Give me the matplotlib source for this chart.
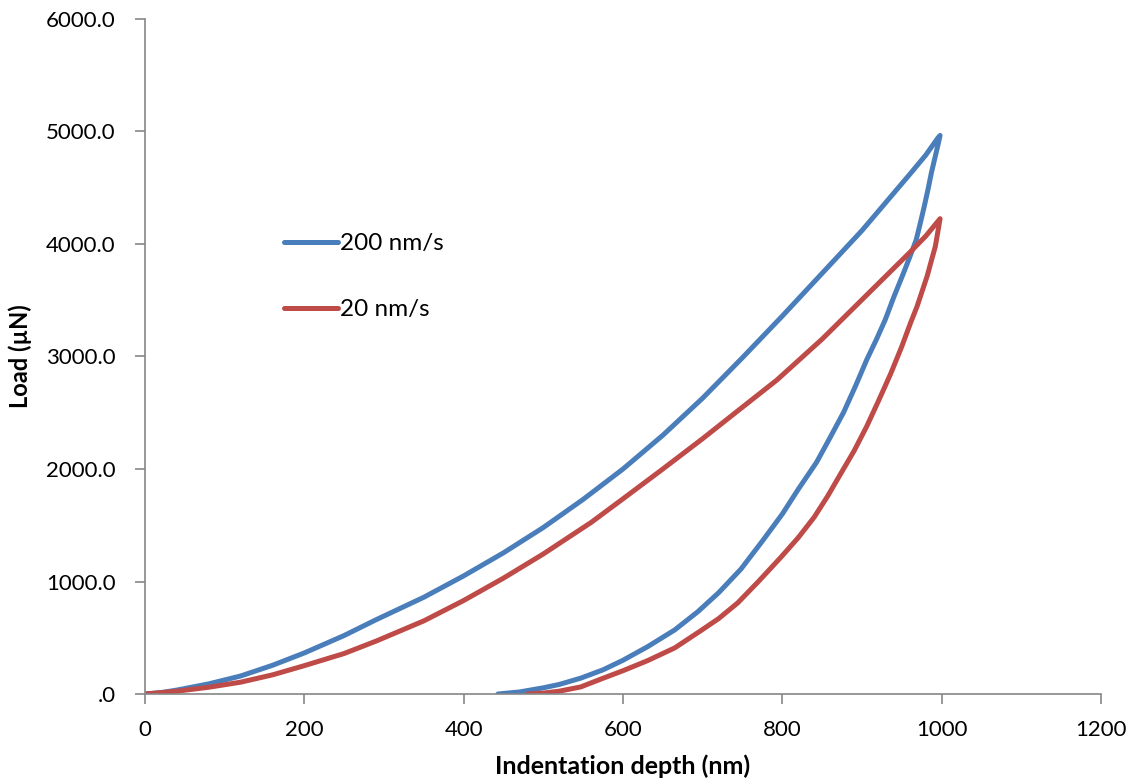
import matplotlib.pyplot as plt

plt.rcParams['font.family'] = ['Lato', 'DejaVu Sans']

# loading / unloading curves (depth nm, load uN)
fast_load_h = [0, 20, 40, 80, 120, 160, 200, 250, 290, 350, 400, 450, 500, 550, 600,
               650, 700, 750, 800, 850, 900, 930, 960, 980, 995, 998]
fast_load_p = [0, 12, 35, 90, 160, 255, 365, 520, 660, 860, 1050, 1255, 1480, 1730, 2000,
               2300, 2630, 2990, 3360, 3740, 4120, 4370, 4620, 4790, 4940, 4965]
fast_unload_h = [998, 996, 992, 987, 983, 978, 973, 968, 960, 952, 940, 929, 918, 906, 892,
                 877, 860, 843, 820, 800, 775, 748, 720, 694, 665, 631, 600, 575, 547, 520,
                 500, 470, 443]
fast_unload_p = [4965, 4900, 4780, 4630, 4490, 4330, 4180, 4036, 3885, 3740, 3530, 3324, 3150, 2972, 2740,
                 2505, 2280, 2060, 1820, 1600, 1360, 1110, 900, 732, 570, 421, 300, 215, 141, 85,
                 55, 18, 0]

slow_load_h = [0, 40, 80, 120, 160, 200, 250, 290, 350, 400, 450, 500, 560, 600, 650,
               700, 750, 793, 850, 900, 930, 960, 980, 998]
slow_load_p = [0, 25, 60, 105, 170, 252, 360, 470, 650, 831, 1030, 1245, 1525, 1735, 2000,
               2270, 2550, 2790, 3155, 3505, 3715, 3925, 4070, 4225]
slow_unload_h = [998, 995, 992, 987, 982, 975, 969, 961, 950, 936, 921, 906, 890, 873, 857,
                 840, 820, 798, 770, 744, 720, 696, 665, 631, 600, 575, 547, 520, 500, 480]
slow_unload_p = [4225, 4100, 3977, 3850, 3720, 3570, 3443, 3300, 3090, 2847, 2610, 2380, 2160, 1955, 1760,
                 1572, 1390, 1214, 1000, 810, 670, 555, 410, 297, 207, 140, 63, 25, 8, 0]

y_ticks = [0, 1000, 2000, 3000, 4000, 5000, 6000]
y_labels = ['.0', '1000.0', '2000.0', '3000.0', '4000.0', '5000.0', '6000.0']
x_ticks = [0, 200, 400, 600, 800, 1000, 1200]

blue = '#4a7ebb'
red = '#be4b48'
grey = '#868686'

fig = plt.figure(figsize=(11.37, 7.82), dpi=100)
ax = fig.add_axes([145/1137, 1 - 694/782, 956/1137, 675/782])

ax.plot(fast_load_h + fast_unload_h, fast_load_p + fast_unload_p,
        color=blue, lw=3.6, solid_capstyle='round', solid_joinstyle='round', label='200 nm/s')
ax.plot(slow_load_h + slow_unload_h, slow_load_p + slow_unload_p,
        color=red, lw=3.6, solid_capstyle='round', solid_joinstyle='round', label='20 nm/s')

ax.set_xlim(0, 1200)
ax.set_ylim(0, 6000)
ax.set_xticks(x_ticks)
ax.set_yticks(y_ticks)
ax.set_yticklabels(y_labels)

ax.spines['top'].set_visible(False)
ax.spines['right'].set_visible(False)
for s in ['left', 'bottom']:
    ax.spines[s].set_color(grey)
    ax.spines[s].set_linewidth(1.2)
ax.tick_params(axis='both', direction='out', length=7, width=1.2, color=grey,
               labelsize=16, labelcolor='black')
ax.tick_params(axis='y', pad=14)
ax.tick_params(axis='x', pad=12)

ax.set_xlabel('Indentation depth (nm)', fontsize=18, fontweight='bold', labelpad=10)
ax.set_ylabel('Load (µN)', fontsize=17, fontweight='bold', labelpad=10)

ax.legend(frameon=False, loc='upper left', bbox_to_anchor=(0.123, 0.715),
          fontsize=17.5, handlelength=2.2, handletextpad=0.1, labelspacing=1.85)

fig.savefig('out.png', dpi=100)
